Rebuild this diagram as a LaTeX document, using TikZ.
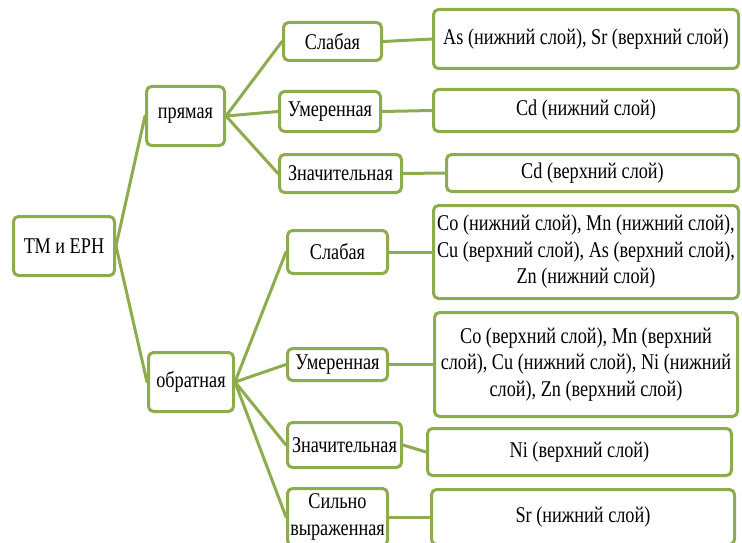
\documentclass[tikz,border=0pt]{standalone}
\usepackage{fontspec}
\setmainfont[FakeStretch=0.81]{Liberation Serif}
\usepackage{tikz}
\definecolor{olivegr}{RGB}{140,172,78}

\begin{document}
\begin{tikzpicture}[x=1pt,y=-1pt,line cap=round,line join=round,
    box/.style={draw=olivegr,line width=3pt,rounded corners=5pt,fill=white,inner sep=0pt,align=center,
      font=\rmfamily\fontsize{22.5}{26.5}\selectfont},
    link/.style={draw=olivegr,line width=3pt}]
        \useasboundingbox (0,0) rectangle (742,543);
        \clip (0,0) rectangle (742,543);
        % levels
        \node[box,minimum width=101,minimum height=59] (root) at (64,246) {ТМ и ЕРН};
        \node[box,minimum width=78,minimum height=59] (pr) at (185.5,116) {прямая};
        \node[box,minimum width=85,minimum height=59] (ob) at (191,382) {обратная};
        % strength of link
        \node[box,minimum width=98,minimum height=38] (s1) at (332.5,41.5) {Слабая};
        \node[box,minimum width=101,minimum height=40] (u1) at (330,111.5) {Умеренная};
        \node[box,minimum width=122,minimum height=38] (z1) at (340.5,173.5) {Значительная};
        \node[box,minimum width=100,minimum height=43] (s2) at (337.5,252) {Слабая};
        \node[box,minimum width=100,minimum height=32] (u2) at (337.5,364.5) {Умеренная};
        \node[box,minimum width=114,minimum height=45] (z2) at (344.5,445) {Значительная};
        \node[box,minimum width=100,minimum height=57] (v2) at (337.5,517) {Сильно\\выраженная};
        % elements
        \node[box,minimum width=305,minimum height=59] (r1) at (586,39) {As (нижний слой), Sr (верхний слой)};
        \node[box,minimum width=305,minimum height=42] (r2) at (586,110.5) {Cd (нижний слой)};
        \node[box,minimum width=292,minimum height=37] (r3) at (592.5,173) {Cd (верхний слой)};
        \node[box,minimum width=305,minimum height=93] (r4) at (586,252) {Co (нижний слой), Mn (нижний слой),\\Cu (верхний слой), As (верхний слой),\\Zn (нижний слой)};
        \node[box,minimum width=303,minimum height=104] (r5) at (586,364.5) {Co (верхний слой), Mn (верхний\\слой), Cu (нижний слой), Ni (нижний\\слой), Zn (верхний слой)};
        \node[box,minimum width=304,minimum height=47] (r6) at (579.5,452) {Ni (верхний слой)};
        \node[box,minimum width=303,minimum height=55] (r7) at (583,517) {Sr (нижний слой)};
        % connectors
        \draw[link] (root.east) -- (pr.west);
        \draw[link] (root.east) -- (ob.west);
        \draw[link] (pr.east) -- (s1.west);
        \draw[link] (pr.east) -- (u1.west);
        \draw[link] (pr.east) -- (z1.west);
        \draw[link] (ob.east) -- (s2.west);
        \draw[link] (ob.east) -- (u2.west);
        \draw[link] (ob.east) -- (z2.west);
        \draw[link] (ob.east) -- (v2.west);
        \draw[link] (s1.east) -- (r1.west);
        \draw[link] (u1.east) -- (r2.west);
        \draw[link] (z1.east) -- (r3.west);
        \draw[link] (s2.east) -- (r4.west);
        \draw[link] (u2.east) -- (r5.west);
        \draw[link] (z2.east) -- (r6.west);
        \draw[link] (v2.east) -- (r7.west);
      \end{tikzpicture}
\end{document}
